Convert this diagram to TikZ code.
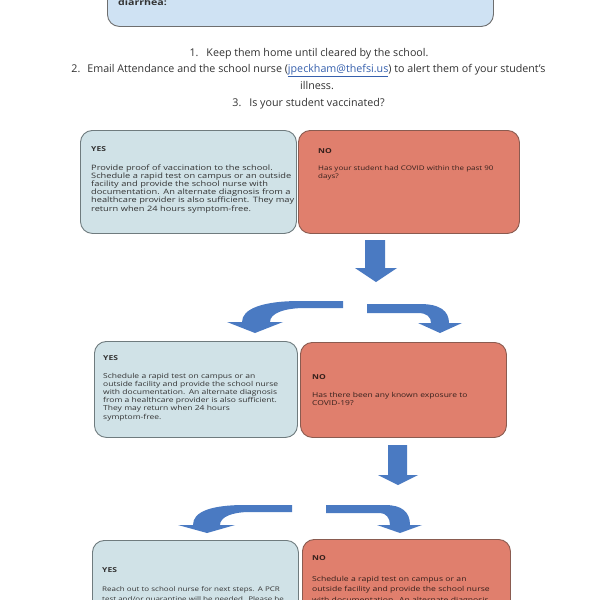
\documentclass[tikz,border=0pt]{standalone}
\usepackage{fontspec}
\setmainfont{Open Sans}
\newfontfamily\boxfont[FakeStretch=1.25]{Open Sans}
\definecolor{topfill}{HTML}{CFE2F3}
\definecolor{topline}{HTML}{6E6E6E}
\definecolor{yesfill}{HTML}{D0E2E7}
\definecolor{yesline}{HTML}{6F7B7E}
\definecolor{nofill}{HTML}{E07F6D}
\definecolor{noline}{HTML}{8A5B50}
\definecolor{txt}{HTML}{333333}
\definecolor{notxt}{HTML}{35201C}
\definecolor{arrowc}{HTML}{4A7AC2}
\definecolor{linkc}{HTML}{3660AD}
\tikzset{
  topbox/.style={draw=topline, fill=topfill, line width=0.9pt, rounded corners=12pt, anchor=north west, inner sep=0pt},
  yesbox/.style={draw=yesline, fill=yesfill, line width=0.9pt, rounded corners=12pt, anchor=north west, inner sep=0pt},
  nobox/.style={draw=noline, fill=nofill, line width=0.9pt, rounded corners=12pt, anchor=north west, inner sep=0pt},
  boxtitle/.style={anchor=base west, inner sep=0pt, font=\boxfont\bfseries\fontsize{6.8}{8}\selectfont},
  bodyA/.style={anchor=base west, inner sep=0pt, text width=260pt, align=left, font=\boxfont\fontsize{7.4}{8.2}\selectfont},
  bodyAn/.style={anchor=base west, inner sep=0pt, text width=260pt, align=left, font=\boxfont\fontsize{6.4}{8}\selectfont},
  bodyB/.style={anchor=base west, inner sep=0pt, text width=260pt, align=left, font=\boxfont\fontsize{6.8}{8.1}\selectfont},
  bodyC/.style={anchor=base west, inner sep=0pt, text width=260pt, align=left, font=\boxfont\fontsize{6.9}{10.4}\selectfont},
  bodyCy/.style={anchor=base west, inner sep=0pt, text width=260pt, align=left, font=\boxfont\fontsize{6.4}{10.4}\selectfont},
  listline/.style={anchor=base, inner sep=0pt, text=txt, font=\fontsize{10.7}{17}\selectfont},
  bigarrow/.style={fill=arrowc}
}
\begin{document}
\begin{tikzpicture}[x=1pt,y=-1pt]
\useasboundingbox (0,0) rectangle (600,600);
\clip (0,0) rectangle (600,600);
\fill[white] (0,0) rectangle (600,600);

% top box (cut off)
\node[topbox, minimum width=386pt, minimum height=60pt] (top) at (107,-34) {};
\node[boxtitle, font=\boxfont\bfseries\fontsize{8.5}{10}\selectfont, text=txt] (toptext) at (118,5) {diarrhea:};

% list
\node[listline] (l1) at (309,56) {1.\hspace{8pt}Keep them home until cleared by the school.};
\node[listline] (l2) at (308.5,72.7) {2.\hspace{7pt}Email Attendance and the school nurse (\textcolor{linkc}{\underline{jpeckham@thefsi.us}}) to alert them of your student’s};
\node[listline] (l3) at (317,89) {illness.};
\node[listline] (l4) at (308.5,106) {3.\hspace{8pt}Is your student vaccinated?};

% row 1
\node[yesbox, minimum width=216pt, minimum height=103pt] (yes1) at (80,130) {};
\node[nobox, minimum width=221pt, minimum height=103pt] (no1) at (298,130) {};
\node[boxtitle, text=txt] (yes1t) at (91,151.5) {YES};
\node[bodyA, text=txt] (yes1b) at (91,170) {Provide proof of vaccination to the school.\\
Schedule a rapid test on campus or an outside\\
facility and provide the school nurse with\\
documentation. An alternate diagnosis from a\\
healthcare provider is also sufficient. They may\\
return when 24 hours symptom-free.};
\node[boxtitle, text=notxt] (no1t) at (318,153.5) {NO};
\node[bodyAn, text=notxt] (no1b) at (318,170.3) {Has your student had COVID within the past 90\\days?};

% arrows group 1
\fill[bigarrow] (365,240) -- (385,240) -- (385,268) -- (397,268) -- (376,282) -- (355,268) -- (365,268) -- cycle;
\fill[bigarrow] (343,301) -- (300,301) .. controls (262,301) and (242,309) .. (242,322) -- (227,322) -- (255,333) -- (283,322) -- (270,322) .. controls (270,313) and (285,308) .. (305,308) -- (343,308) -- cycle;
\fill[bigarrow] (367,304) -- (420,304) .. controls (440,304) and (449,311) .. (449,323) -- (462,323) -- (440,333) -- (418,323) -- (431,323) .. controls (431,317) and (427,313) .. (418,313) -- (367,313) -- cycle;

% row 2
\node[yesbox, minimum width=203pt, minimum height=96pt] (yes2) at (94,341) {};
\node[nobox, minimum width=206pt, minimum height=95pt] (no2) at (300,342) {};
\node[boxtitle, text=txt] (yes2t) at (103,360.6) {YES};
\node[bodyB, text=txt] (yes2b) at (103,378.5) {Schedule a rapid test on campus or an\\
outside facility and provide the school nurse\\
with documentation. An alternate diagnosis\\
from a healthcare provider is also sufficient.\\
They may return when 24 hours\\
symptom-free.};
\node[boxtitle, text=notxt] (no2t) at (312,379.6) {NO};
\node[bodyB, text=notxt] (no2b) at (312,397.5) {Has there been any known exposure to\\COVID-19?};

% arrows group 2
\fill[bigarrow] (388,445) -- (407,445) -- (407,475) -- (418,475) -- (398,485) -- (378,475) -- (388,475) -- cycle;
\fill[bigarrow] (292,505) -- (245,505) .. controls (210,505) and (193,512) .. (193,525) -- (178,525) -- (207,533) -- (235,525) -- (220,525) .. controls (220,517) and (232,512) .. (250,512) -- (292,512) -- cycle;
\fill[bigarrow] (326,505) -- (385,505) .. controls (402,505) and (410,512) .. (410,525) -- (422,525) -- (400,533) -- (377,525) -- (390,525) .. controls (390,518) and (386,513) .. (380,513) -- (326,513) -- cycle;

% row 3
\node[yesbox, minimum width=206pt, minimum height=120pt] (yes3) at (92,540) {};
\node[nobox, minimum width=208pt, minimum height=121pt] (no3) at (302,539) {};
\node[boxtitle, text=txt] (yes3t) at (102,572.5) {YES};
\node[bodyCy, text=txt] (yes3b) at (102,591.5) {Reach out to school nurse for next steps. A PCR\\
test and/or quarantine will be needed. Please be};
\node[boxtitle, text=notxt] (no3t) at (312,560.5) {NO};
\node[bodyC, text=notxt] (no3b) at (312,581.5) {Schedule a rapid test on campus or an\\
outside facility and provide the school nurse\\
with documentation. An alternate diagnosis};
\end{tikzpicture}
\end{document}
